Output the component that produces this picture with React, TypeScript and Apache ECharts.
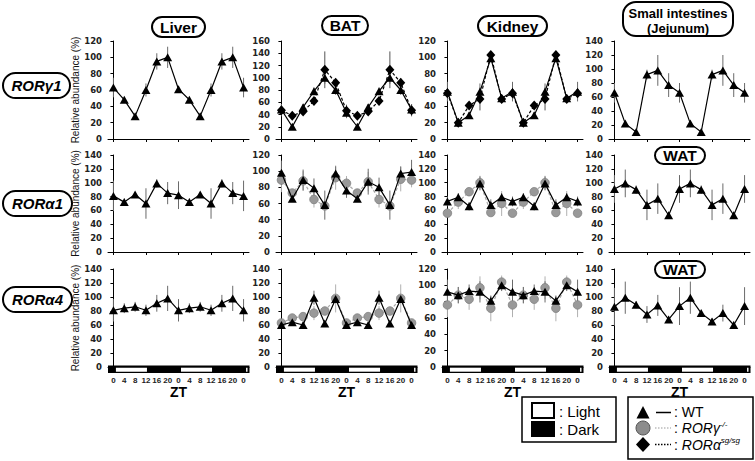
import React, { useEffect, useRef } from "react";
import * as echarts from "echarts";

// ---------- axis / label data ----------
const ztHours = [0, 4, 8, 12, 16, 20, 24, 28, 32, 36, 40, 44, 48];
const ztTickHours = [0, 12, 24, 36, 48];
const lightPhaseStarts = [0, 24, 48];
const columnTitles = ["Liver", "BAT", "Kidney", "Small intestines\n(Jejunum)"];
const rowTitles = ["RORγ1", "RORα1", "RORα4"];
const yMaxRow1 = [120, 160, 120, 140];
const yMaxRow2 = [140, 120, 140, 140];
const yMaxRow3 = [140, 140, 120, 140];

// ---------- Row 1: RORγ1 ----------
const liverG1Wt = [63, 48, 28, 60, 95, 100, 61, 48, 28, 60, 95, 100, 63];
const liverG1WtErr = [12, 3, 3, 8, 10, 13, 4, 3, 3, 8, 10, 13, 12];
const batG1Wt = [48, 20, 52, 78, 100, 80, 43, 20, 52, 78, 100, 80, 48];
const batG1WtErr = [9, 3, 5, 6, 10, 8, 9, 3, 5, 6, 10, 8, 9];
const batG1Ra = [47, 38, 45, 62, 113, 92, 46, 38, 45, 62, 113, 92, 47];
const batG1RaErr = [10, 3, 5, 5, 30, 7, 10, 3, 5, 5, 30, 7, 10];
const kidneyG1Wt = [58, 20, 29, 58, 99, 50, 58, 20, 29, 58, 99, 50, 58];
const kidneyG1WtErr = [12, 3, 4, 10, 5, 5, 12, 3, 4, 10, 5, 5, 12];
const kidneyG1Ra = [56, 20, 41, 49, 103, 49, 56, 20, 41, 49, 103, 49, 56];
const kidneyG1RaErr = [5, 3, 4, 14, 4, 5, 5, 3, 4, 14, 4, 5, 5];
const siG1Wt = [66, 22, 10, 92, 98, 77, 66, 22, 10, 92, 98, 77, 66];
const siG1WtErr = [14, 3, 3, 7, 22, 17, 14, 3, 3, 7, 22, 17, 14];

// ---------- Row 2: RORα1 ----------
const liverA1Wt = [81, 72, 83, 70, 99, 85, 82, 72, 83, 70, 99, 85, 81];
const liverA1WtErr = [22, 5, 3, 22, 6, 16, 20, 5, 3, 22, 6, 16, 22];
const batA1Wt = [98, 66, 89, 79, 58, 97, 76, 66, 87, 80, 58, 97, 99];
const batA1WtErr = [15, 4, 13, 12, 18, 9, 9, 4, 16, 12, 18, 9, 15];
const batA1Rg = [89, 73, 88, 65, 57, 92, 85, 73, 87, 65, 57, 90, 89];
const batA1RgErr = [15, 4, 12, 10, 4, 15, 9, 4, 12, 10, 4, 15, 9];
const kidneyA1Wt = [73, 79, 66, 99, 68, 79, 73, 79, 66, 99, 68, 79, 73];
const kidneyA1WtErr = [7, 6, 6, 10, 8, 6, 7, 6, 6, 10, 8, 6, 7];
const kidneyA1Rg = [56, 72, 87, 100, 57, 70, 56, 72, 87, 100, 57, 70, 56];
const kidneyA1RgErr = [4, 10, 4, 10, 4, 18, 4, 10, 4, 10, 4, 18, 4];
const watA1Wt = [91, 99, 90, 68, 77, 53, 91, 99, 90, 68, 77, 53, 91];
const watA1WtErr = [20, 20, 6, 22, 22, 5, 20, 20, 6, 22, 22, 5, 20];

// ---------- Row 3: RORα4 ----------
const liverA4Wt = [81, 84, 86, 81, 91, 98, 81, 84, 86, 81, 91, 98, 81];
const liverA4WtErr = [16, 7, 7, 8, 12, 18, 16, 7, 7, 8, 12, 18, 16];
const batA4Wt = [60, 64, 60, 99, 62, 97, 60, 64, 60, 99, 62, 97, 60];
const batA4WtErr = [3, 4, 3, 10, 3, 3, 3, 4, 3, 10, 3, 3, 3];
const batA4Rg = [63, 70, 72, 77, 80, 98, 63, 70, 72, 77, 80, 98, 63];
const batA4RgErr = [3, 4, 4, 10, 6, 20, 3, 4, 4, 10, 6, 20, 3];
const kidneyA4Wt = [92, 88, 93, 92, 81, 100, 92, 88, 93, 92, 81, 100, 92];
const kidneyA4WtErr = [15, 10, 8, 13, 6, 7, 15, 10, 8, 13, 6, 7, 15];
const kidneyA4Rg = [76, 88, 83, 97, 72, 104, 76, 88, 83, 97, 72, 104, 76];
const kidneyA4RgErr = [15, 10, 13, 14, 16, 8, 15, 10, 13, 14, 16, 8, 15];
const watA4Wt = [86, 99, 89, 75, 88, 68, 87, 99, 77, 65, 77, 60, 87];
const watA4WtErr = [27, 23, 5, 12, 15, 5, 27, 23, 4, 5, 12, 5, 27];

type Kind = "wt" | "rg" | "ra";
type SeriesDef = { kind: Kind; values: number[]; err: number[] };
type PanelDef = { row: number; col: number; yMax: number; series: SeriesDef[] };

const panels: PanelDef[] = [
  { row: 0, col: 0, yMax: yMaxRow1[0], series: [{ kind: "wt", values: liverG1Wt, err: liverG1WtErr }] },
  { row: 0, col: 1, yMax: yMaxRow1[1], series: [{ kind: "ra", values: batG1Ra, err: batG1RaErr }, { kind: "wt", values: batG1Wt, err: batG1WtErr }] },
  { row: 0, col: 2, yMax: yMaxRow1[2], series: [{ kind: "ra", values: kidneyG1Ra, err: kidneyG1RaErr }, { kind: "wt", values: kidneyG1Wt, err: kidneyG1WtErr }] },
  { row: 0, col: 3, yMax: yMaxRow1[3], series: [{ kind: "wt", values: siG1Wt, err: siG1WtErr }] },
  { row: 1, col: 0, yMax: yMaxRow2[0], series: [{ kind: "wt", values: liverA1Wt, err: liverA1WtErr }] },
  { row: 1, col: 1, yMax: yMaxRow2[1], series: [{ kind: "rg", values: batA1Rg, err: batA1RgErr }, { kind: "wt", values: batA1Wt, err: batA1WtErr }] },
  { row: 1, col: 2, yMax: yMaxRow2[2], series: [{ kind: "rg", values: kidneyA1Rg, err: kidneyA1RgErr }, { kind: "wt", values: kidneyA1Wt, err: kidneyA1WtErr }] },
  { row: 1, col: 3, yMax: yMaxRow2[3], series: [{ kind: "wt", values: watA1Wt, err: watA1WtErr }] },
  { row: 2, col: 0, yMax: yMaxRow3[0], series: [{ kind: "wt", values: liverA4Wt, err: liverA4WtErr }] },
  { row: 2, col: 1, yMax: yMaxRow3[1], series: [{ kind: "rg", values: batA4Rg, err: batA4RgErr }, { kind: "wt", values: batA4Wt, err: batA4WtErr }] },
  { row: 2, col: 2, yMax: yMaxRow3[2], series: [{ kind: "rg", values: kidneyA4Rg, err: kidneyA4RgErr }, { kind: "wt", values: kidneyA4Wt, err: kidneyA4WtErr }] },
  { row: 2, col: 3, yMax: yMaxRow3[3], series: [{ kind: "wt", values: watA4Wt, err: watA4WtErr }] },
];

// ---------- layout ----------
const colLeft = [108, 276, 442, 609];
const plotWidth = 141;
const rowTop = [41, 155, 269];
const rowHeight = [98, 97, 98];

const FONT = "Liberation Sans";

const styleFor = (kind: Kind) => {
  if (kind === "wt")
    return {
      symbol: "triangle",
      symbolSize: [9, 8],
      itemStyle: { color: "#000" },
      lineStyle: { color: "#000", width: 1.2, type: "solid" as const },
      errColor: "#6a6a6a",
      z: 4,
    };
  if (kind === "rg")
    return {
      symbol: "circle",
      symbolSize: 8.5,
      itemStyle: { color: "#999999", borderColor: "#808080", borderWidth: 0.8 },
      lineStyle: { color: "#aaaaaa", width: 1.2, type: [3, 2] as any },
      errColor: "#b0b0b0",
      z: 3,
    };
  return {
    symbol: "diamond",
    symbolSize: [9, 10],
    itemStyle: { color: "#000" },
    lineStyle: { color: "#000", width: 1.2, type: [3, 2] as any },
    errColor: "#555",
    z: 3,
  };
};

function buildOption() {
  const grid: any[] = [];
  const xAxis: any[] = [];
  const yAxis: any[] = [];
  const series: any[] = [];

  panels.forEach((p, i) => {
    grid.push({
      left: colLeft[p.col],
      top: rowTop[p.row],
      width: plotWidth,
      height: rowHeight[p.row],
      containLabel: false,
    });
    const bottomRow = p.row === 2;
    xAxis.push({
      type: "value",
      gridIndex: i,
      min: -2,
      max: 50,
      splitLine: { show: false },
      axisLine: { show: true, onZero: false, lineStyle: { color: "#000", width: 1 } },
      axisTick: { show: !bottomRow, length: 3, customValues: ztTickHours, lineStyle: { color: "#000" } },
      axisLabel: {
        show: bottomRow,
        customValues: ztHours,
        formatter: (v: number) => String(v % 24),
        fontSize: 8,
        fontWeight: "bold",
        fontFamily: FONT,
        color: "#222",
        margin: 9,
      },
      name: bottomRow ? "ZT" : "",
      nameLocation: "middle",
      nameGap: 18,
      nameTextStyle: { fontSize: 14, fontWeight: "bold", fontFamily: FONT, color: "#000" },
    });
    yAxis.push({
      type: "value",
      gridIndex: i,
      min: 0,
      max: p.yMax,
      interval: 20,
      splitLine: { show: false },
      axisLine: { show: true, lineStyle: { color: "#000", width: 1 } },
      axisTick: { show: true, length: 3, lineStyle: { color: "#000" } },
      axisLabel: {
        fontSize: 8.5,
        fontWeight: "bold",
        fontFamily: "DejaVu Sans",
        color: "#222",
        margin: 6,
      },
      name: p.col === 0 ? "Relative abundance (%)" : "",
      nameLocation: "middle",
      nameRotate: 90,
      nameGap: 25,
      nameTextStyle: { fontSize: 10, fontFamily: FONT, color: "#111" },
    });

    p.series.forEach((s) => {
      const st = styleFor(s.kind);
      series.push({
        type: "custom",
        xAxisIndex: i,
        yAxisIndex: i,
        z: 1,
        silent: true,
        clip: false,
        data: ztHours.map((z, k) => [z, s.values[k] - s.err[k], s.values[k] + s.err[k]]),
        encode: { x: 0, y: [1, 2] },
        renderItem: (_params: any, api: any) => {
          const x = api.value(0);
          const lo = api.coord([x, api.value(1)]);
          const hi = api.coord([x, api.value(2)]);
          return {
            type: "line",
            shape: { x1: lo[0], y1: lo[1], x2: hi[0], y2: hi[1] },
            style: { stroke: st.errColor, lineWidth: 1 },
          };
        },
      });
      series.push({
        type: "line",
        xAxisIndex: i,
        yAxisIndex: i,
        z: st.z,
        silent: true,
        symbol: st.symbol,
        symbolSize: st.symbolSize,
        showAllSymbol: true,
        itemStyle: st.itemStyle,
        lineStyle: st.lineStyle,
        data: ztHours.map((z, k) => [z, s.values[k]]),
      });
    });

    if (bottomRow) {
      series.push({
        type: "custom",
        xAxisIndex: i,
        yAxisIndex: i,
        z: 6,
        silent: true,
        clip: false,
        data: [[0, 0]],
        renderItem: (_params: any, api: any) => {
          const a = api.coord([-2, 0]);
          const b = api.coord([50, 0]);
          const children: any[] = [
            {
              type: "rect",
              shape: { x: a[0], y: a[1] - 1.5, width: b[0] - a[0] + 0.5, height: 7.5 },
              style: { fill: "#000" },
            },
          ];
          lightPhaseStarts.forEach((s) => {
            const p0 = api.coord([s, 0])[0] + 2.5;
            const p1 = Math.min(api.coord([s + 12, 0])[0] + 1, b[0] - 1.5);
            children.push({
              type: "rect",
              shape: { x: p0, y: a[1] + 0.7, width: Math.max(p1 - p0, 0), height: 4 },
              style: { fill: "#fff" },
            });
          });
          return { type: "group", children };
        },
      });
    }
  });

  const pill = (x: number, y: number, w: number, h: number, r: number) => ({
    type: "rect",
    shape: { x, y, width: w, height: h, r },
    style: { fill: "#fff", stroke: "#000", lineWidth: 2 },
    z: 10,
  });
  const pillText = (cx: number, cy: number, text: string, size: number, italic = false, lh?: number) => ({
    type: "text",
    x: cx,
    y: cy,
    z: 11,
    style: {
      text,
      fill: "#000",
      fontSize: size,
      fontWeight: "bold",
      fontStyle: italic ? "italic" : "normal",
      fontFamily: FONT,
      align: "center",
      verticalAlign: "middle",
      lineHeight: lh,
    },
  });

  const graphic: any[] = [
    // column titles
    pill(152, 17, 53, 20, 10),
    pillText(178.5, 27, columnTitles[0], 15.5),
    pill(322, 16, 46, 19, 9.5),
    pillText(345, 25.5, columnTitles[1], 15.5),
    pill(478, 16, 69, 20, 10),
    pillText(512.5, 26, columnTitles[2], 15.5),
    pill(623, 2, 110, 34, 13),
    pillText(678, 21, columnTitles[3], 13, false, 15),
    // WAT titles
    pill(655, 147, 50, 17, 8.5),
    pillText(680, 155.5, "WAT", 15.5),
    pill(655, 261, 50, 17, 8.5),
    pillText(680, 269.5, "WAT", 15.5),
    // row titles
    pill(3, 73, 67, 25, 12.5),
    pillText(36.5, 85.5, rowTitles[0], 15, true),
    pill(3, 191, 69, 25, 12.5),
    pillText(37.5, 203.5, rowTitles[1], 15, true),
    pill(3, 287, 69, 25, 12.5),
    pillText(37.5, 299.5, rowTitles[2], 15, true),
    // legend: light/dark
    {
      type: "rect",
      shape: { x: 522, y: 397, width: 94, height: 45 },
      style: { fill: "#fff", stroke: "#000", lineWidth: 1.5 },
    },
    {
      type: "rect",
      shape: { x: 532, y: 403, width: 22, height: 15 },
      style: { fill: "#fff", stroke: "#000", lineWidth: 2 },
    },
    {
      type: "rect",
      shape: { x: 531, y: 421, width: 24, height: 16 },
      style: { fill: "#000" },
    },
    {
      type: "text",
      x: 559,
      y: 411,
      style: { text: ": Light", fontSize: 15, fontFamily: FONT, fill: "#000", align: "left", verticalAlign: "middle" },
    },
    {
      type: "text",
      x: 559,
      y: 429,
      style: { text: ": Dark", fontSize: 15, fontFamily: FONT, fill: "#000", align: "left", verticalAlign: "middle" },
    },
    // legend: genotypes
    {
      type: "rect",
      shape: { x: 628, y: 397, width: 125, height: 62 },
      style: { fill: "#fff", stroke: "#000", lineWidth: 1.5 },
    },
    {
      type: "polygon",
      shape: { points: [[636.5, 418.5], [649.5, 418.5], [643, 406]] },
      style: { fill: "#000" },
    },
    {
      type: "line",
      shape: { x1: 656, y1: 412.5, x2: 671, y2: 412.5 },
      style: { stroke: "#000", lineWidth: 1.5 },
    },
    {
      type: "circle",
      shape: { cx: 643, cy: 428, r: 7 },
      style: { fill: "#8c8c8c", stroke: "#555", lineWidth: 1 },
    },
    {
      type: "line",
      shape: { x1: 655, y1: 428, x2: 671, y2: 428 },
      style: { stroke: "#9a9a9a", lineWidth: 1.2, lineDash: [1.5, 1.5] },
    },
    {
      type: "polygon",
      shape: { points: [[643, 437], [650, 444.5], [643, 452], [636, 444.5]] },
      style: { fill: "#000" },
    },
    {
      type: "line",
      shape: { x1: 655, y1: 444.5, x2: 671, y2: 444.5 },
      style: { stroke: "#000", lineWidth: 1.5, lineDash: [1.5, 1.5] },
    },
    {
      type: "text",
      x: 674,
      y: 412,
      style: { text: ": WT", fontSize: 14, fontFamily: FONT, fill: "#000", align: "left", verticalAlign: "middle" },
    },
    {
      type: "text",
      x: 674,
      y: 428,
      style: {
        text: "{a|: }{b|RORγ}{c|-/-}",
        align: "left",
        verticalAlign: "middle",
        rich: {
          a: { fontSize: 14, fontFamily: FONT, fill: "#000" },
          b: { fontSize: 14, fontFamily: FONT, fontStyle: "italic", fill: "#000" },
          c: { fontSize: 8, fontFamily: FONT, fontStyle: "italic", fill: "#000", verticalAlign: "top", padding: [0, 0, 8, 0] },
        },
      },
    },
    {
      type: "text",
      x: 674,
      y: 444.5,
      style: {
        text: "{a|: }{b|RORα}{c|sg/sg}",
        align: "left",
        verticalAlign: "middle",
        rich: {
          a: { fontSize: 14, fontFamily: FONT, fill: "#000" },
          b: { fontSize: 14, fontFamily: FONT, fontStyle: "italic", fill: "#000" },
          c: { fontSize: 8, fontFamily: FONT, fontStyle: "italic", fill: "#000", verticalAlign: "top", padding: [0, 0, 8, 0] },
        },
      },
    },
  ];

  return {
    animation: false,
    backgroundColor: "#fff",
    grid,
    xAxis,
    yAxis,
    series,
    graphic,
  };
}

export default function App() {
  const ref = useRef<HTMLDivElement>(null);
  useEffect(() => {
    if (!ref.current) return;
    const chart = echarts.init(ref.current, undefined, { renderer: "svg" });
    chart.setOption(buildOption() as any);
    return () => chart.dispose();
  }, []);
  return (
    <div
      ref={ref}
      style={{ position: "absolute", left: 0, top: 0, width: 755, height: 461, background: "#fff" }}
    />
  );
}
